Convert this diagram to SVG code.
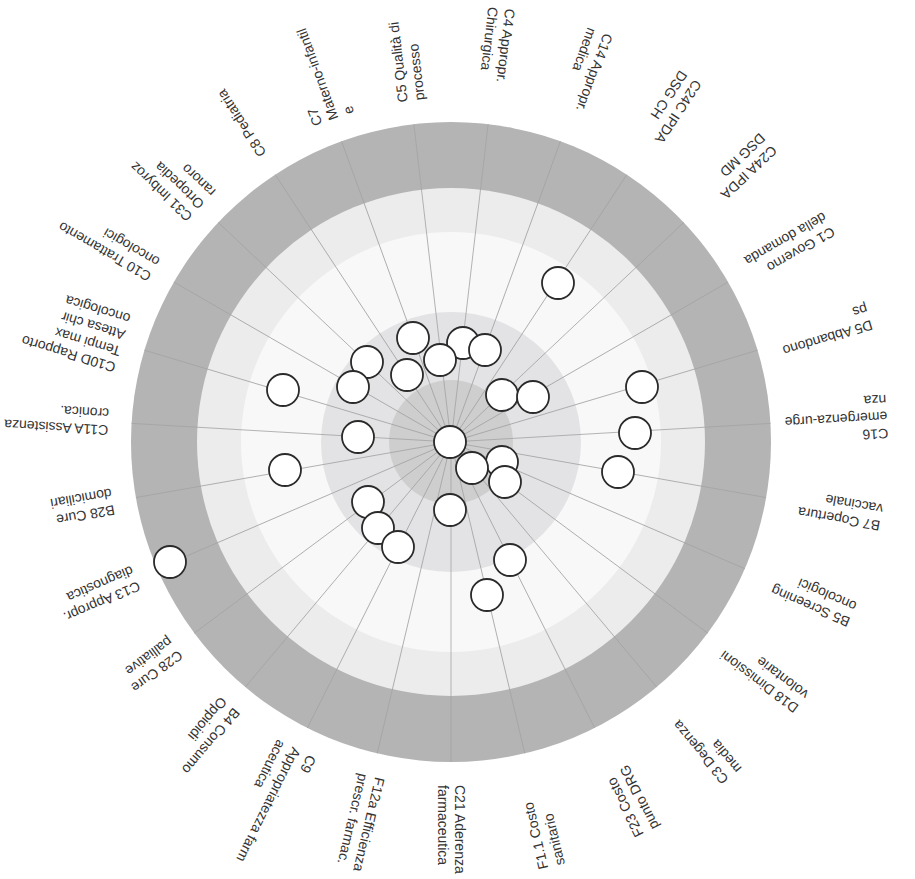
<svg xmlns="http://www.w3.org/2000/svg" width="915" height="879" viewBox="0 0 915 879">
<style>
.lbl{font-family:"Liberation Sans",Arial,sans-serif;font-size:14px;fill:#333}
.spoke{stroke:#a4a4a4;stroke-width:0.8}
.pt{fill:#fff;stroke:#2a2a2a;stroke-width:1.8}
</style>
<rect width="915" height="879" fill="#fff"/>
<g id="rings">
<circle cx="451" cy="442" r="320" fill="#b4b4b4"/>
<circle cx="451" cy="442" r="254" fill="#ececec"/>
<circle cx="451" cy="442" r="210" fill="#f8f8f8"/>
<circle cx="451" cy="442" r="130" fill="#e3e3e6"/>
<circle cx="451" cy="442" r="62" fill="#cecece"/>
</g>
<g id="connectors">
<line class="spoke" x1="451" y1="442" x2="771" y2="442" transform="rotate(-83.333 451 442)"/>
<line class="spoke" x1="451" y1="442" x2="771" y2="442" transform="rotate(-70 451 442)"/>
<line class="spoke" x1="451" y1="442" x2="771" y2="442" transform="rotate(-56.667 451 442)"/>
<line class="spoke" x1="451" y1="442" x2="771" y2="442" transform="rotate(-43.333 451 442)"/>
<line class="spoke" x1="451" y1="442" x2="771" y2="442" transform="rotate(-30 451 442)"/>
<line class="spoke" x1="451" y1="442" x2="771" y2="442" transform="rotate(-16.667 451 442)"/>
<line class="spoke" x1="451" y1="442" x2="771" y2="442" transform="rotate(-3.333 451 442)"/>
<line class="spoke" x1="451" y1="442" x2="771" y2="442" transform="rotate(10 451 442)"/>
<line class="spoke" x1="451" y1="442" x2="771" y2="442" transform="rotate(23.333 451 442)"/>
<line class="spoke" x1="451" y1="442" x2="771" y2="442" transform="rotate(36.667 451 442)"/>
<line class="spoke" x1="451" y1="442" x2="771" y2="442" transform="rotate(50 451 442)"/>
<line class="spoke" x1="451" y1="442" x2="771" y2="442" transform="rotate(63.333 451 442)"/>
<line class="spoke" x1="451" y1="442" x2="771" y2="442" transform="rotate(76.667 451 442)"/>
<line class="spoke" x1="451" y1="442" x2="771" y2="442" transform="rotate(90 451 442)"/>
<line class="spoke" x1="451" y1="442" x2="771" y2="442" transform="rotate(103.333 451 442)"/>
<line class="spoke" x1="451" y1="442" x2="771" y2="442" transform="rotate(116.667 451 442)"/>
<line class="spoke" x1="451" y1="442" x2="771" y2="442" transform="rotate(130 451 442)"/>
<line class="spoke" x1="451" y1="442" x2="771" y2="442" transform="rotate(143.333 451 442)"/>
<line class="spoke" x1="451" y1="442" x2="771" y2="442" transform="rotate(156.667 451 442)"/>
<line class="spoke" x1="451" y1="442" x2="771" y2="442" transform="rotate(170 451 442)"/>
<line class="spoke" x1="451" y1="442" x2="771" y2="442" transform="rotate(183.333 451 442)"/>
<line class="spoke" x1="451" y1="442" x2="771" y2="442" transform="rotate(196.667 451 442)"/>
<line class="spoke" x1="451" y1="442" x2="771" y2="442" transform="rotate(210 451 442)"/>
<line class="spoke" x1="451" y1="442" x2="771" y2="442" transform="rotate(223.333 451 442)"/>
<line class="spoke" x1="451" y1="442" x2="771" y2="442" transform="rotate(236.667 451 442)"/>
<line class="spoke" x1="451" y1="442" x2="771" y2="442" transform="rotate(250 451 442)"/>
<line class="spoke" x1="451" y1="442" x2="771" y2="442" transform="rotate(263.333 451 442)"/>
</g>
<g id="labels">
<g id="l-c4" transform="translate(451 442) rotate(-83.333) translate(437 0) rotate(180)"><text class="lbl"><tspan x="0" y="-3.5">C4 Appropr.</tspan><tspan x="0" y="13.5">Chirurgica</tspan></text></g>
<g id="l-c14" transform="translate(451 442) rotate(-70) translate(437 0) rotate(180)"><text class="lbl"><tspan x="0" y="-3.5">C14 Appropr.</tspan><tspan x="0" y="13.5">medica</tspan></text></g>
<g id="l-c24c" transform="translate(451 442) rotate(-56.667) translate(437 0) rotate(180)"><text class="lbl"><tspan x="0" y="-3.5">C24C IPDA</tspan><tspan x="0" y="13.5">DSG CH</tspan></text></g>
<g id="l-c24a" transform="translate(451 442) rotate(-43.333) translate(437 0) rotate(180)"><text class="lbl"><tspan x="0" y="-3.5">C24A IPDA</tspan><tspan x="0" y="13.5">DSG MD</tspan></text></g>
<g id="l-c1" transform="translate(451 442) rotate(-30) translate(437 0) rotate(180)"><text class="lbl"><tspan x="0" y="-3.5">C1 Governo</tspan><tspan x="0" y="13.5">della domanda</tspan></text></g>
<g id="l-d5" transform="translate(451 442) rotate(-16.667) translate(437 0) rotate(180)"><text class="lbl"><tspan x="0" y="-3.5">D5 Abbandono</tspan><tspan x="0" y="13.5">ps</tspan></text></g>
<g id="l-c16" transform="translate(451 442) rotate(-3.333) translate(437 0) rotate(180)"><text class="lbl"><tspan x="0" y="-12">C16</tspan><tspan x="0" y="5">emergenza-urge</tspan><tspan x="0" y="22">nza</tspan></text></g>
<g id="l-b7" transform="translate(451 442) rotate(10) translate(437 0) rotate(180)"><text class="lbl"><tspan x="0" y="-3.5">B7 Copertura</tspan><tspan x="0" y="13.5">vaccinale</tspan></text></g>
<g id="l-b5" transform="translate(451 442) rotate(23.333) translate(437 0) rotate(180)"><text class="lbl"><tspan x="0" y="-3.5">B5 Screening</tspan><tspan x="0" y="13.5">oncologici</tspan></text></g>
<g id="l-d18" transform="translate(451 442) rotate(36.667) translate(437 0) rotate(180)"><text class="lbl"><tspan x="0" y="-3.5">D18 Dimissioni</tspan><tspan x="0" y="13.5">volontarie</tspan></text></g>
<g id="l-c3" transform="translate(451 442) rotate(50) translate(437 0) rotate(180)"><text class="lbl"><tspan x="0" y="-3.5">C3 Degenza</tspan><tspan x="0" y="13.5">media</tspan></text></g>
<g id="l-f23" transform="translate(451 442) rotate(63.333) translate(437 0) rotate(180)"><text class="lbl"><tspan x="0" y="-3.5">F23 Costo</tspan><tspan x="0" y="13.5">punto DRG</tspan></text></g>
<g id="l-f11" transform="translate(451 442) rotate(76.667) translate(437 0) rotate(180)"><text class="lbl"><tspan x="0" y="-3.5">F1.1 Costo</tspan><tspan x="0" y="13.5">sanitario</tspan></text></g>
<g id="l-c21" transform="translate(451 442) rotate(90) translate(343 0)"><text class="lbl"><tspan x="0" y="-3.5">C21 Aderenza</tspan><tspan x="0" y="13.5">farmaceutica</tspan></text></g>
<g id="l-f12a" transform="translate(451 442) rotate(103.333) translate(343 0)"><text class="lbl"><tspan x="0" y="-3.5">F12a Efficienza</tspan><tspan x="0" y="13.5">prescr. farmac.</tspan></text></g>
<g id="l-c9" transform="translate(451 442) rotate(116.667) translate(343 0)"><text class="lbl"><tspan x="0" y="-12">C9</tspan><tspan x="0" y="5">Appropriatezza farm</tspan><tspan x="0" y="22">aceutica</tspan></text></g>
<g id="l-b4" transform="translate(451 442) rotate(130) translate(343 0)"><text class="lbl"><tspan x="0" y="-3.5">B4 Consumo</tspan><tspan x="0" y="13.5">Oppioidi</tspan></text></g>
<g id="l-c28" transform="translate(451 442) rotate(143.333) translate(343 0)"><text class="lbl"><tspan x="0" y="-3.5">C28 Cure</tspan><tspan x="0" y="13.5">palliative</tspan></text></g>
<g id="l-c13" transform="translate(451 442) rotate(156.667) translate(343 0)"><text class="lbl"><tspan x="0" y="-3.5">C13 Appropr.</tspan><tspan x="0" y="13.5">diagnostica</tspan></text></g>
<g id="l-b28" transform="translate(451 442) rotate(170) translate(343 0)"><text class="lbl"><tspan x="0" y="-3.5">B28 Cure</tspan><tspan x="0" y="13.5">domiciliari</tspan></text></g>
<g id="l-c11a" transform="translate(451 442) rotate(183.333) translate(343 0)"><text class="lbl"><tspan x="0" y="-3.5">C11A Assistenza</tspan><tspan x="0" y="13.5">cronica.</tspan></text></g>
<g id="l-c10d" transform="translate(451 442) rotate(196.667) translate(343 0)"><text class="lbl"><tspan x="0" y="-20.5">C10D Rapporto</tspan><tspan x="0" y="-3.5">Tempi max</tspan><tspan x="0" y="13.5">Attesa chir</tspan><tspan x="0" y="30.5">oncologica</tspan></text></g>
<g id="l-c10" transform="translate(451 442) rotate(210) translate(343 0)"><text class="lbl"><tspan x="0" y="-3.5">C10 Trattamento</tspan><tspan x="0" y="13.5">oncologici</tspan></text></g>
<g id="l-c31" transform="translate(451 442) rotate(223.333) translate(343 0)"><text class="lbl"><tspan x="0" y="-12">C31 Imbyroz</tspan><tspan x="0" y="5">Ortopedia</tspan><tspan x="0" y="22">ranoro</tspan></text></g>
<g id="l-c8" transform="translate(451 442) rotate(236.667) translate(343 0)"><text class="lbl"><tspan x="0" y="5">C8 Pediatria</tspan></text></g>
<g id="l-c7" transform="translate(451 442) rotate(250) translate(343 0)"><text class="lbl"><tspan x="0" y="-12">C7</tspan><tspan x="0" y="5">Materno-infantil</tspan><tspan x="0" y="22">e</tspan></text></g>
<g id="l-c5" transform="translate(451 442) rotate(263.333) translate(343 0)"><text class="lbl"><tspan x="0" y="-3.5">C5 Qualità di</tspan><tspan x="0" y="13.5">processo</tspan></text></g>
</g>
<g id="points">
<g id="p1"><circle class="pt" cx="558" cy="283" r="16"/></g>
<g id="p2"><circle class="pt" cx="413" cy="338" r="16"/></g>
<g id="p3"><circle class="pt" cx="463" cy="343" r="16"/></g>
<g id="p4"><circle class="pt" cx="485" cy="350" r="16"/></g>
<g id="p5"><circle class="pt" cx="440" cy="360" r="16"/></g>
<g id="p6"><circle class="pt" cx="367" cy="362" r="16"/></g>
<g id="p7"><circle class="pt" cx="407" cy="375" r="16"/></g>
<g id="p8"><circle class="pt" cx="353" cy="387" r="16"/></g>
<g id="p9"><circle class="pt" cx="283" cy="390" r="16"/></g>
<g id="p10"><circle class="pt" cx="502" cy="395" r="16"/></g>
<g id="p11"><circle class="pt" cx="533" cy="397" r="16"/></g>
<g id="p12"><circle class="pt" cx="642" cy="387" r="16"/></g>
<g id="p13"><circle class="pt" cx="358" cy="437" r="16"/></g>
<g id="p14"><circle class="pt" cx="450" cy="442" r="16"/></g>
<g id="p15"><circle class="pt" cx="635" cy="433" r="16"/></g>
<g id="p16"><circle class="pt" cx="502" cy="462" r="16"/></g>
<g id="p17"><circle class="pt" cx="472" cy="468" r="16"/></g>
<g id="p18"><circle class="pt" cx="505" cy="482" r="16"/></g>
<g id="p19"><circle class="pt" cx="285" cy="470" r="16"/></g>
<g id="p20"><circle class="pt" cx="618" cy="472" r="16"/></g>
<g id="p21"><circle class="pt" cx="368" cy="502" r="16"/></g>
<g id="p22"><circle class="pt" cx="450" cy="510" r="16"/></g>
<g id="p23"><circle class="pt" cx="378" cy="528" r="16"/></g>
<g id="p24"><circle class="pt" cx="398" cy="547" r="16"/></g>
<g id="p25"><circle class="pt" cx="510" cy="560" r="16"/></g>
<g id="p26"><circle class="pt" cx="487" cy="595" r="16"/></g>
<g id="p27"><circle class="pt" cx="170" cy="562" r="16"/></g>
</g>
</svg>
